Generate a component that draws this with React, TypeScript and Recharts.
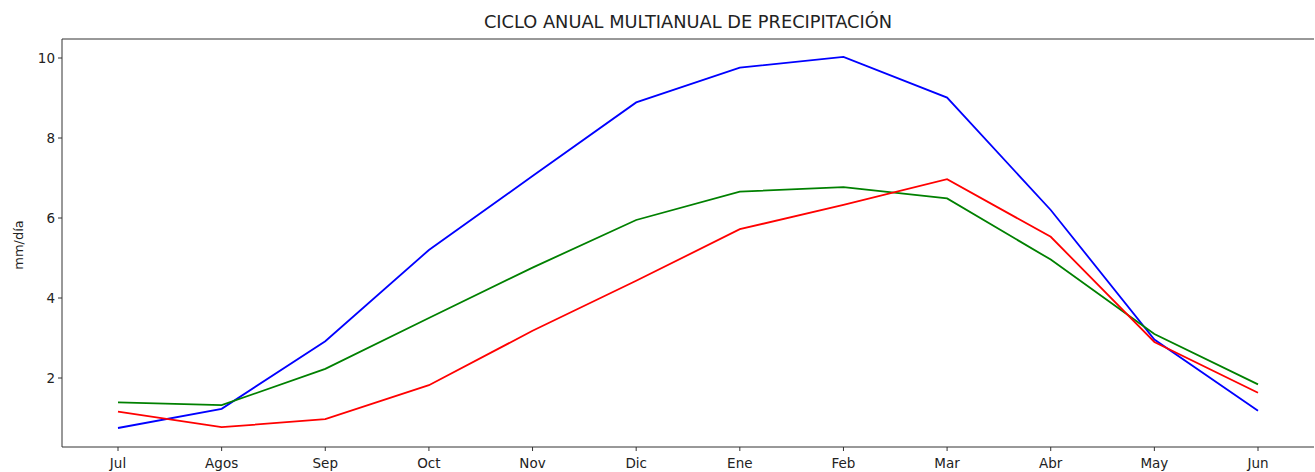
import React from 'react';
import { LineChart, Line, XAxis, YAxis } from 'recharts';

const months = ['Jul', 'Agos', 'Sep', 'Oct', 'Nov', 'Dic', 'Ene', 'Feb', 'Mar', 'Abr', 'May', 'Jun'];
const blueSeries = [0.75, 1.23, 2.92, 5.2, 7.05, 8.89, 9.76, 10.03, 9.01, 6.2, 2.96, 1.18];
const greenSeries = [1.39, 1.32, 2.23, 3.5, 4.76, 5.95, 6.66, 6.77, 6.49, 4.96, 3.1, 1.84];
const redSeries = [1.16, 0.77, 0.97, 1.82, 3.18, 4.43, 5.72, 6.33, 6.97, 5.53, 2.9, 1.63];
const yTicks = [2, 4, 6, 8, 10];

const data = months.map((m, i) => ({
  month: m,
  blue: blueSeries[i],
  green: greenSeries[i],
  red: redSeries[i],
}));

const FONT = '"DejaVu Sans", sans-serif';
const AXIS = '#333333';

export default function App() {
  return (
    <div style={{ position: 'absolute', left: 0, top: 0, width: 1315, height: 472, background: '#fff', fontFamily: FONT }}>
      <div
        style={{
          position: 'absolute',
          top: 11,
          left: 62,
          width: 1252,
          textAlign: 'center',
          fontSize: 17.8,
          color: '#222',
          lineHeight: '22px',
        }}
      >
        CICLO ANUAL MULTIANUAL DE PRECIPITACIÓN
      </div>
      <div
        style={{
          position: 'absolute',
          left: 18,
          top: 245,
          transform: 'translate(-50%, -50%) rotate(-90deg)',
          fontSize: 13,
          color: '#222',
          whiteSpace: 'nowrap',
        }}
      >
        mm/día
      </div>
      <LineChart
        width={1315}
        height={472}
        data={data}
        margin={{ top: 38, right: 1, bottom: 0, left: 0 }}
        style={{ position: 'absolute', left: 0, top: 0 }}
      >
        <XAxis
          dataKey="month"
          padding={{ left: 56, right: 56 }}
          height={25}
          stroke={AXIS}
          tickSize={4}
          tickMargin={7}
          tick={{ fill: '#222', fontSize: 13.5, fontFamily: FONT }}
          interval={0}
        />
        <XAxis xAxisId="top" orientation="top" dataKey="month" height={1} tick={false} tickLine={false} stroke={AXIS} />
        <YAxis
          type="number"
          domain={[0.275, 10.475]}
          ticks={yTicks}
          allowDataOverflow
          width={62}
          stroke={AXIS}
          tickSize={4}
          tickMargin={3}
          tick={{ fill: '#222', fontSize: 13.5, fontFamily: FONT }}
        />
        <YAxis yAxisId="right" orientation="right" width={0} tick={false} tickLine={false} stroke="#cccccc" />
        <Line dataKey="blue" stroke="#0000ff" strokeWidth={1.8} dot={false} isAnimationActive={false} />
        <Line dataKey="green" stroke="#008000" strokeWidth={1.8} dot={false} isAnimationActive={false} />
        <Line dataKey="red" stroke="#ff0000" strokeWidth={1.8} dot={false} isAnimationActive={false} />
      </LineChart>
    </div>
  );
}
